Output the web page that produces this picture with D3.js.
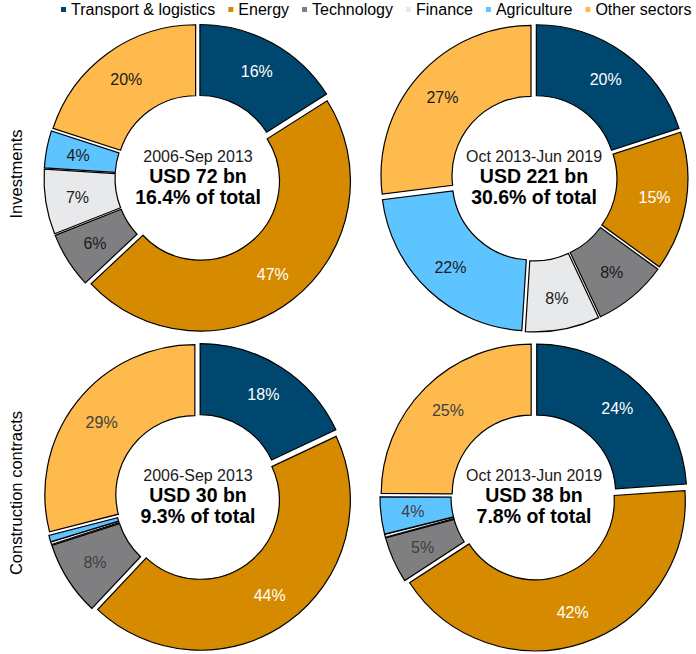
<!DOCTYPE html>
<html>
<head>
<meta charset="utf-8">
<script src="https://cdn.jsdelivr.net/npm/d3@7"></script>
<style>
  html, body { margin: 0; padding: 0; background: #fff; }
  svg { display: block; font-family: "Liberation Sans", Arial, sans-serif; }
</style>
</head>
<body>
<svg id="chart" width="696" height="654"></svg>
<script>
// ---- data ----
const categories = ["Transport & logistics", "Energy", "Technology", "Finance", "Agriculture", "Other sectors"];
const categoryColors = ["#00476F", "#D58A00", "#7F7F81", "#E8E9EB", "#5EC4FF", "#FFBA4E"];
const rowLabels = ["Investments", "Construction contracts"];
const periods = ["2006-Sep 2013", "Oct 2013-Jun 2019"];
const investEarly = [16, 47, 6, 7, 4, 20];
const investLate = [20, 15, 8, 8, 22, 27];
const constructEarly = [18, 44, 8, 0.3, 0.7, 29];
const constructLate = [24, 42, 5, 0.3, 4, 25];
const totals = ["USD 72 bn", "USD 221 bn", "USD 30 bn", "USD 38 bn"];
const shares = ["16.4% of total", "30.6% of total", "9.3% of total", "7.8% of total"];

const panels = [
  { row: 0, col: 0, values: investEarly, total: totals[0], share: shares[0] },
  { row: 0, col: 1, values: investLate, total: totals[1], share: shares[1] },
  { row: 1, col: 0, values: constructEarly, total: totals[2], share: shares[2] },
  { row: 1, col: 1, values: constructLate, total: totals[3], share: shares[3] }
];

// ---- layout ----
const svg = d3.select("#chart");
const colX = d3.scaleOrdinal().domain([0, 1]).range([198, 534]);
const rowY = d3.scaleOrdinal().domain([0, 1]).range([178, 497]);
const color = d3.scaleOrdinal().domain(categories).range(categoryColors);
const outerR = 150, innerR = 79, explode = 4;
const labelDark = ["#1a1a1a", "#404040"];

const pie = d3.pie().sort(null).value(d => d.v).startAngle(0).endAngle(2 * Math.PI);
const arc = d3.arc().innerRadius(innerR).outerRadius(outerR);
const labelArc = d3.arc().innerRadius(118).outerRadius(118);

panels.forEach(p => {
  const g = svg.append("g").attr("transform", `translate(${colX(p.col)},${rowY(p.row)})`);
  const data = pie(p.values.map((v, i) => ({ v, cat: categories[i], i })));
  const slices = g.selectAll("g.slice").data(data).enter().append("g")
    .attr("class", "slice")
    .attr("transform", d => {
      const a = (d.startAngle + d.endAngle) / 2;
      return `translate(${explode * Math.sin(a)},${-explode * Math.cos(a)})`;
    });
  slices.append("path")
    .attr("d", arc)
    .attr("fill", d => color(d.data.cat))
    .attr("stroke", "#000")
    .attr("stroke-width", 1.2)
    .attr("stroke-linejoin", "miter");
  slices.filter(d => d.data.v >= 2).append("text")
    .attr("transform", d => `translate(${labelArc.centroid(d)})`)
    .attr("text-anchor", "middle")
    .attr("dy", "0.36em")
    .attr("font-size", "16px")
    .attr("fill", d => d.data.i < 2 ? "#ffffff" : labelDark[p.row])
    .text(d => Math.round(d.data.v) + "%");

  g.append("text").attr("text-anchor", "middle").attr("y", -16)
    .attr("font-size", "16px").attr("fill", "#1a1a1a").text(periods[p.col]);
  g.append("text").attr("text-anchor", "middle").attr("y", 5)
    .attr("font-size", "19.5px").attr("font-weight", "bold").attr("fill", "#000").text(p.total);
  g.append("text").attr("text-anchor", "middle").attr("y", 26)
    .attr("font-size", "19.5px").attr("font-weight", "bold").attr("fill", "#000").text(p.share);
});

// ---- row labels ----
rowLabels.forEach((lab, i) => {
  svg.append("text")
    .attr("transform", `translate(22,${rowY(i) - 4}) rotate(-90)`)
    .attr("text-anchor", "middle")
    .attr("font-size", "16.5px")
    .attr("fill", "#000")
    .text(lab);
});

// ---- legend ----
const legend = svg.append("g").attr("class", "legend");
let lx = 61;
categories.forEach((c, i) => {
  legend.append("rect").attr("x", lx).attr("y", 7).attr("width", 5).attr("height", 5)
    .attr("fill", categoryColors[i]);
  const t = legend.append("text").attr("x", lx + 10).attr("y", 15)
    .attr("font-size", "16px").attr("fill", "#000").text(c);
  lx += 10 + t.node().getComputedTextLength() + 13;
});
</script>
</body>
</html>
